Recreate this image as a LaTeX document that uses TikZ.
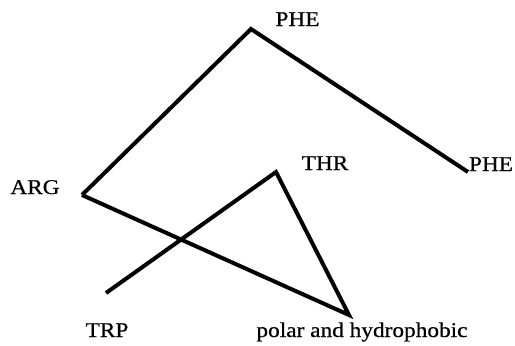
\documentclass[tikz,border=0pt]{standalone}
\usepackage{fontspec}
\setmainfont{Liberation Serif}[FakeStretch=1.11,FakeBold=0.6]
\begin{document}
\begin{tikzpicture}[x=1pt,y=-1pt,
  edge/.style={line width=4pt,line join=miter,line cap=butt},
  lbl/.style={anchor=base,inner sep=0pt,font=\fontsize{21}{24}\selectfont}]
\useasboundingbox (0,0) rectangle (515,346);
\coordinate (vphetop) at (251,29);
\coordinate (varg) at (82,195);
\coordinate (vpher) at (468,172);
\coordinate (vthr) at (276,172);
\coordinate (vtrp) at (106,293);
\coordinate (vpol) at (349,315);
\node[lbl] (phetop) at (297.5,26) {PHE};
\node[lbl] (arg) at (35,194) {ARG};
\node[lbl] (thr) at (325,170) {THR};
\node[lbl] (pher) at (491,171) {PHE};
\node[lbl] (trp) at (107,337) {TRP};
\node[lbl] (pol) at (362,337) {polar and hydrophobic};
\draw[edge] (varg) -- (vphetop) -- (vpher);
\draw[edge] (varg) -- (vpol) -- (vthr) -- (vtrp);
\end{tikzpicture}
\end{document}
